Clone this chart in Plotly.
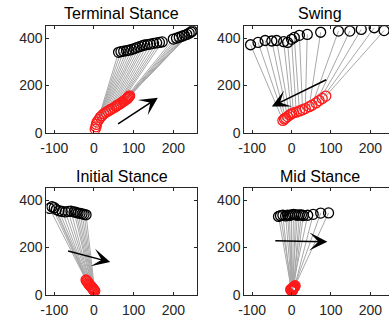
import plotly.graph_objects as go

# ---------------- data ----------------
titles = ["Terminal Stance", "Swing", "Initial Stance", "Mid Stance"]

term_black_x = [62, 68, 75, 82, 88, 95, 102, 108, 115, 122, 128, 135, 142, 150, 158, 165, 172, 200, 208, 215, 222, 228, 234, 240, 245, 248]
term_black_y = [340, 343, 345, 347, 349, 352, 356, 360, 364, 368, 371, 373, 375, 378, 380, 382, 384, 396, 400, 404, 408, 412, 416, 421, 426, 430]
term_red_x = [3, 5, 6, 8, 12, 16, 20, 25, 30, 35, 40, 45, 50, 55, 58, 62, 66, 70, 74, 77, 80, 83, 85, 87, 88, 90]
term_red_y = [15, 25, 35, 45, 55, 65, 72, 80, 86, 91, 96, 101, 106, 111, 115, 118, 122, 128, 132, 136, 140, 143, 146, 150, 153, 156]
term_arrow = [57, 33, 161, 148]   # tail x, tail y, head x, head y

swing_black_x = [-104, -85, -67, -50, -38, -20, -10, 0, 7, 20, 40, 74, 119, 148, 177, 210, 235]
swing_black_y = [372, 382, 390, 388, 390, 385, 382, 395, 403, 412, 416, 425, 430, 430, 437, 444, 432]
swing_red_x = [-22, -18, -15, -10, -5, 0, 5, 12, 20, 28, 35, 45, 52, 62, 70, 78, 87]
swing_red_y = [52, 58, 62, 68, 75, 80, 84, 87, 92, 97, 102, 110, 116, 126, 136, 145, 155]
swing_arrow = [92, 227, -50, 111]

init_black_x = [-112, -106, -100, -95, -88, -80, -72, -65, -58, -50, -45, -40, -35, -30, -25, -20]
init_black_y = [365, 372, 368, 360, 355, 352, 350, 352, 353, 350, 348, 345, 344, 342, 340, 338]
init_red_x = [-20, -18, -17, -15, -13, -12, -10, -8, -7, -5, -4, -2, -1, 0, 1, 2]
init_red_y = [62, 58, 55, 50, 46, 42, 40, 36, 33, 30, 27, 24, 21, 19, 17, 15]
init_arrow = [-69, 186, 41, 138]

mid_black_x = [-33, -28, -22, -15, -10, -5, 0, 5, 10, 15, 20, 25, 30, 41, 55, 74, 94]
mid_black_y = [331, 334, 336, 333, 336, 335, 338, 340, 338, 336, 338, 337, 335, 336, 340, 345, 346]
mid_red_x = [0, 2, -2, 1, 3, -1, 0, 2, 4, 1, 5, 3, 6, 2, 8, 7, 9]
mid_red_y = [18, 20, 22, 15, 25, 20, 22, 18, 28, 24, 30, 20, 32, 26, 35, 33, 38]
mid_arrow = [-45, 228, 91, 224]

x_ticks = [-100, 0, 100, 200]
x_ticklabels = ["-100", "0", "100", "200"]
y_ticks = [0, 200, 400]
y_ticklabels = ["0", "200", "400"]

panels = [
    (term_black_x, term_black_y, term_red_x, term_red_y, term_arrow),
    (swing_black_x, swing_black_y, swing_red_x, swing_red_y, swing_arrow),
    (init_black_x, init_black_y, init_red_x, init_red_y, init_arrow),
    (mid_black_x, mid_black_y, mid_red_x, mid_red_y, mid_arrow),
]

# ---------------- layout geometry ----------------
W, H = 389, 329
xdom = [[41 / W, 194.1 / W], [242 / W, 1.0], [41 / W, 194.1 / W], [242 / W, 1.0]]
ydom = [[1 - 136 / H, 1 - 27 / H], [1 - 136 / H, 1 - 27 / H],
        [1 - 302 / H, 1 - 193 / H], [1 - 302 / H, 1 - 193 / H]]
xrng = [[-120, 260], [-120, 247.5], [-120, 260], [-120, 247.5]]
title_pos = [(117.5, 14), (318.5, 14), (117.5, 181), (318.5, 181)]

AX = "#262626"
FONT = "Liberation Sans, Arial, sans-serif"

fig = go.Figure()
annotations = []
layout = dict(width=W, height=H, margin=dict(l=0, r=0, t=0, b=0),
              paper_bgcolor="white", plot_bgcolor="white", showlegend=False)

for i, (bx, by, rx, ry, arr) in enumerate(panels):
    n = i + 1
    xa = "x" if n == 1 else f"x{n}"
    ya = "y" if n == 1 else f"y{n}"
    # connecting lines
    lx, ly = [], []
    for k in range(len(bx)):
        lx += [rx[k], bx[k], None]
        ly += [ry[k], by[k], None]
    fig.add_trace(go.Scatter(x=lx, y=ly, mode="lines", xaxis=xa, yaxis=ya,
                             line=dict(color="#A8A8A8", width=1), hoverinfo="skip"))
    fig.add_trace(go.Scatter(x=bx, y=by, mode="markers", xaxis=xa, yaxis=ya,
                             marker=dict(symbol="circle-open", size=10, color="black",
                                         line=dict(width=1.3, color="black"))))
    fig.add_trace(go.Scatter(x=rx, y=ry, mode="markers", xaxis=xa, yaxis=ya,
                             marker=dict(symbol="circle-open", size=10, color="#FF1A1A",
                                         line=dict(width=1.3, color="#FF1A1A"))))
    right = n in (2, 4)
    common = dict(showline=True, linecolor=AX, linewidth=1, ticks="inside", ticklen=3,
                  tickwidth=1, tickcolor=AX, showgrid=False, zeroline=False,
                  tickfont=dict(family=FONT, size=14, color=AX), fixedrange=True)
    layout["xaxis" if n == 1 else f"xaxis{n}"] = dict(
        common, domain=xdom[i], range=xrng[i], anchor=ya, tickmode="array",
        tickvals=x_ticks, ticktext=x_ticklabels, mirror="ticks", ticklabelstandoff=3)
    layout["yaxis" if n == 1 else f"yaxis{n}"] = dict(
        common, domain=ydom[i], range=[0, 450], anchor=xa, tickmode="array",
        tickvals=y_ticks, ticktext=y_ticklabels, mirror=False if right else "ticks")
    # arrow
    annotations.append(dict(x=arr[2], y=arr[3], ax=arr[0], ay=arr[1], xref=xa, yref=ya,
                            axref=xa, ayref=ya, text="", showarrow=True, arrowhead=3,
                            arrowsize=2.0, arrowwidth=1.5, arrowcolor="black"))
    # title
    tx, ty = title_pos[i]
    annotations.append(dict(x=tx / W, y=1 - ty / H, xref="paper", yref="paper",
                            text=titles[i], showarrow=False, xanchor="center", yanchor="middle",
                            font=dict(family=FONT, size=16, color="black")))

layout["annotations"] = annotations
fig.update_layout(**layout)
fig.write_html("out.html")
